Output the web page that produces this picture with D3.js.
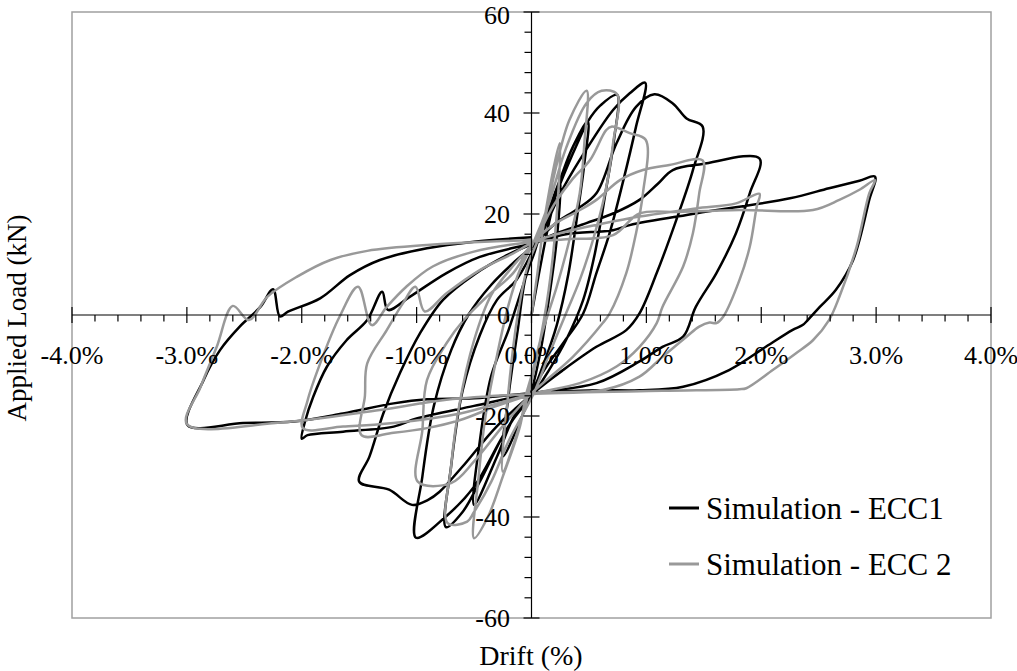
<!DOCTYPE html>
<html><head><meta charset="utf-8">
<script src="https://cdn.jsdelivr.net/npm/d3@7"></script>
<style>body{margin:0;background:#fff}svg{display:block}text{font-family:"Liberation Serif","Times New Roman",serif}</style>
</head><body>
<svg id="c" width="1017" height="671"></svg>
<script>
// Drift (%) / Applied load (kN)
const seriesNames = ["Simulation - ECC1", "Simulation - ECC 2"];
const xTickValues = [-4, -3, -2, -1, 0, 1, 2, 3, 4];
const xTickLabels = ["-4.0%", "-3.0%", "-2.0%", "-1.0%", "0.0%", "1.0%", "2.0%", "3.0%", "4.0%"];
const yTickValues = [-60, -40, -20, 0, 20, 40, 60];
const yTickLabels = ["-60", "-40", "-20", "0", "20", "40", "60"];

const ecc1 = [
 [0,0],[0.08,10],[0.17,20],[0.25,26.5],
 [0.22,15],[0.15,3],[0.08,-7],[0,-15],
 [-0.1,-21],[-0.25,-28],
 [-0.2,-16],[-0.12,-3],[-0.05,7.6],[0.02,12],[0.05,14.2],
 [0.12,19],[0.246,26.7],[0.36,33.3],[0.49,38.3],
 [0.46,30],[0.4,20],[0.32,8],[0.22,-2],[0.1,-10],[0,-15.5],
 [-0.15,-20],[-0.3,-28],[-0.5,-37.6],
 [-0.45,-25],[-0.35,-12],[-0.2,-3],[-0.1,4],[0,11],[0.05,14.3],
 [0.12,18],[0.25,26],[0.4,34],[0.49,38.3],[0.6,41.5],[0.745,43.6],
 [0.72,35],[0.65,25],[0.55,12],[0.45,3],[0.3,-5],[0.15,-11],[0.02,-15.5],
 [-0.2,-22],[-0.45,-33],[-0.6,-39],[-0.745,-42],
 [-0.7,-30],[-0.6,-15],[-0.45,-4],[-0.3,3],[-0.13,7],[0.03,13.5],
 [0.1,16.5],[0.25,24],[0.42,30.7],[0.71,40.6],[0.855,43.9],[0.99,46],
 [0.91,37.3],[0.8,26.7],[0.68,16.2],[0.565,8.3],[0.45,0.3],[0.275,-5.6],[0.13,-10.2],[0,-15],
 [-0.25,-24],[-0.5,-34],[-0.75,-40],[-1.006,-44.1],
 [-0.95,-32],[-0.85,-18],[-0.7,-7],[-0.55,0],[-0.35,6],[-0.15,10.5],[0.03,14],
 [0.2,18],[0.4,21],[0.565,24.1],[0.74,34],[0.91,41.2],[1.07,43.7],[1.23,41.9],[1.35,38.9],[1.49,37.3],
 [1.405,28.7],[1.26,18.8],[1.09,8.3],[0.94,0.3],[0.825,-3],[0.565,-6.3],[0.275,-10.9],[0.04,-15],
 [-0.3,-22],[-0.6,-30],[-0.8,-35],[-0.9,-36.6],[-1.04,-37.6],[-1.24,-34.6],[-1.5,-33],
 [-1.41,-28],[-1.29,-19.5],[-1.145,-11.5],[-0.97,-3.6],[-0.77,3],[-0.5,8],[-0.2,12],[0.03,14.3],
 [0.2,16],[0.478,18.2],[0.7,20],[0.94,22.8],[1.1,26],[1.23,28.7],[1.49,29.9],[1.985,31],
 [1.9,24.1],[1.78,16.2],[1.61,8.3],[1.43,1.6],[1.32,-4.3],[1.14,-6.3],[0.94,-9.2],[0.565,-13.5],[0.04,-15.4],
 [-0.5,-18],[-1.0,-20.5],[-1.2,-22.1],[-1.64,-23.1],[-1.95,-23.8],[-2.0,-24.5],
 [-1.97,-21],[-1.9,-16.2],[-1.78,-10.2],[-1.61,-5],[-1.43,-1],[-1.3,4.6],[-1.25,1],[-1.06,3.6],[-0.74,8.3],[-0.45,11.5],[0.01,14.2],
 [0.3,16],[0.71,16.8],[0.855,17.8],[1.43,20.1],[2.25,23.1],[2.59,25.1],[2.855,26.6],[2.99,27.4],
 [2.94,22.8],[2.8,10.9],[2.65,5],[2.51,1.6],[2.405,-1],[2.36,-2],[2.27,-3],[2.04,-6.3],[1.72,-10.9],[1.32,-14.2],[0.94,-14.9],[0.565,-14.9],[0.04,-15.4],
 [-0.5,-16.5],[-0.91,-16.7],[-1.2,-17.5],[-1.64,-19.5],[-2.07,-21.1],[-2.51,-21.4],[-2.995,-21.8],
 [-2.855,-12.9],[-2.71,-6.9],[-2.54,-2.3],[-2.36,1.6],[-2.25,5.1],[-2.19,-0.3],[-2.12,0.65],[-1.84,3.3],[-1.58,7.9],[-1.32,10.9],[-0.91,13.2],[-0.5,14.5],[0,15.4]
];

const ecc2 = [
 [0,0],[0.05,8],[0.12,20],[0.246,34],
 [0.22,20],[0.15,5],[0.05,-8],[-0.02,-15],
 [-0.12,-23],[-0.25,-31],
 [-0.2,-15],[-0.12,0],[-0.03,10],[0.05,14.5],
 [0.1,17.5],[0.2,28],[0.33,38.6],[0.48,44.4],
 [0.46,34],[0.42,24.1],[0.33,14.85],[0.22,5.6],[0.1,-3],[0,-12],[-0.05,-16],
 [-0.1,-22],[-0.25,-32],[-0.38,-40],[-0.5,-44.2],
 [-0.46,-32],[-0.4,-20],[-0.3,-8],[-0.2,2],[-0.1,9],[0.02,14.5],
 [0.15,22],[0.3,33],[0.48,42],[0.61,44.4],[0.745,43.7],
 [0.71,34],[0.64,24.1],[0.535,14.85],[0.42,6.9],[0.3,0.3],[0.15,-8],[0.02,-15.5],
 [-0.2,-25],[-0.35,-33],[-0.5,-39],[-0.56,-40.9],[-0.73,-41.2],
 [-0.7,-30],[-0.63,-18],[-0.5,-5],[-0.35,4],[-0.15,10],[0.02,14.5],
 [0.2,22],[0.36,27],[0.51,30.7],[0.65,36.6],[0.696,37.3],[0.855,36],[0.994,34.7],
 [0.97,24.1],[0.91,16.2],[0.825,8.3],[0.68,0.3],[0.62,-1.6],[0.36,-8.3],[0.13,-12.9],[0,-15.5],
 [-0.25,-22],[-0.5,-29],[-0.7,-33.3],[-0.99,-33],
 [-0.95,-22.8],[-0.91,-12.9],[-0.74,-5.6],[-0.59,-1],[-0.39,3.6],[-0.16,8.3],[0.02,14.5],
 [0.2,18],[0.4,20.5],[0.565,22.8],[0.77,26.7],[0.97,28.7],[1.2,29.7],[1.49,30.6],
 [1.46,24.1],[1.405,16.2],[1.32,9.6],[1.14,1.6],[1.09,-1.6],[0.94,-6.3],[0.74,-10.2],[0.42,-13.5],[0.04,-15.5],
 [-0.3,-18],[-0.62,-20.8],[-0.91,-22.4],[-1.2,-23.3],[-1.48,-23.8],
 [-1.45,-16],[-1.43,-9.6],[-1.26,-3],[-1.12,2.3],[-1.01,5.6],[-0.93,0.7],[-0.74,4.3],[-0.45,8.9],[-0.16,12.2],[0.02,14.5],
 [0.3,16.5],[0.6,18],[0.94,19.5],[1.43,21.1],[1.78,22.1],[1.985,24],
 [1.96,21.4],[1.9,13.5],[1.81,6.9],[1.67,-0.3],[1.61,-1.6],[1.55,-1.5],[1.46,-2.3],[1.35,-4.3],[1.14,-8.3],[0.94,-12.2],[0.62,-14.85],[0.04,-15.6],
 [-0.62,-19.5],[-1.2,-21.4],[-1.64,-22.1],[-1.99,-22.4],
 [-1.95,-17],[-1.84,-9.6],[-1.67,-0.3],[-1.51,5.6],[-1.39,-2],[-1.26,1.6],[-1.09,5.6],[-0.86,9.6],[-0.51,12.5],[0.01,14.5],
 [0.3,15],[0.71,15.8],[0.94,20.1],[1.29,20.4],[1.81,20.8],[2.45,20.8],[2.68,22.8],[2.855,24.8],[2.99,26.7],
 [2.94,24.1],[2.83,13.5],[2.68,3.6],[2.59,-1],[2.45,-5],[2.3,-7.6],[2.1,-10.9],[1.87,-14.5],[1.81,-14.7],[1.14,-15],[0.04,-15.6],
 [-0.74,-16.8],[-1.32,-18.8],[-2.19,-21.3],[-3.0,-21.6],
 [-2.88,-14.2],[-2.74,-6.3],[-2.6,1.8],[-2.46,-1],[-2.3,3.6],[-2.04,7.6],[-1.75,10.9],[-1.43,12.7],[-0.88,13.9],[0.01,14.85]
];

const colors = ["#000000", "#999999"];

const svg = d3.select("#c");
const L = 72, R = 991, T = 12, B = 618;
const x = d3.scaleLinear().domain([-4, 4]).range([L, R]);
const y = d3.scaleLinear().domain([-60, 60]).range([B, T]);

// plot frame
svg.append("rect").attr("x", L).attr("y", T).attr("width", R - L).attr("height", B - T)
  .attr("fill", "none").attr("stroke", "#a0a0a0").attr("stroke-width", 1.5);

// series
const line = d3.line().x(d => x(d[0])).y(d => y(d[1])).curve(d3.curveCatmullRom.alpha(0.5));
[ecc1, ecc2].forEach((s, i) => {
  svg.append("path").attr("d", line(s)).attr("fill", "none")
    .attr("stroke", colors[i]).attr("stroke-width", 2.5).attr("stroke-linejoin", "round");
});

// x axis (through y=0)
const y0 = y(0);
const xg = svg.append("g");
xg.append("line").attr("x1", L).attr("x2", R).attr("y1", y0).attr("y2", y0).attr("stroke", "#000").attr("stroke-width", 1.2);
d3.range(-4, 4.0001, 0.2).forEach(v => {
  const major = Math.abs(v - Math.round(v)) < 1e-6;
  xg.append("line").attr("x1", x(v)).attr("x2", x(v))
    .attr("y1", major ? y0 - 8 : y0).attr("y2", y0 + (major ? 8 : 6.5))
    .attr("stroke", "#000").attr("stroke-width", 1.2);
});
xg.selectAll("text.xt").data(xTickValues).join("text")
  .attr("x", d => x(d)).attr("y", 364).attr("text-anchor", "middle")
  .attr("font-size", 26).text((d, i) => xTickLabels[i]);

// y axis (through x=0)
const x0 = x(0);
const yg = svg.append("g");
yg.append("line").attr("x1", x0).attr("x2", x0).attr("y1", T).attr("y2", B).attr("stroke", "#000").attr("stroke-width", 1.2);
d3.range(-60, 60.001, 4).forEach(v => {
  const major = Math.abs(v % 20) < 1e-6;
  yg.append("line").attr("x1", x0 - (major ? 8 : 7)).attr("x2", major ? x0 + 8 : x0)
    .attr("y1", y(v)).attr("y2", y(v)).attr("stroke", "#000").attr("stroke-width", 1.2);
});
// baseline of each label: centred on its tick, kept inside the page at the top
yg.selectAll("text.yt").data(yTickValues).join("text")
  .attr("x", 510).attr("y", d => Math.max(y(d) + 9, 24)).attr("text-anchor", "end")
  .attr("font-size", 26).text((d, i) => yTickLabels[i]);

// axis titles
svg.append("text").attr("x", 531).attr("y", 665).attr("text-anchor", "middle").attr("font-size", 28).text("Drift (%)");
svg.append("text").attr("transform", "translate(26,318) rotate(-90)").attr("text-anchor", "middle")
  .attr("font-size", 27).text("Applied Load (kN)");

// legend
const legY = [508, 564];
seriesNames.forEach((n, i) => {
  svg.append("line").attr("x1", 669).attr("x2", 699).attr("y1", legY[i]).attr("y2", legY[i])
    .attr("stroke", colors[i]).attr("stroke-width", 3);
  svg.append("text").attr("x", 706).attr("y", legY[i]).attr("dy", "0.36em")
    .attr("font-size", 31).text(n);
});
</script>
</body></html>
